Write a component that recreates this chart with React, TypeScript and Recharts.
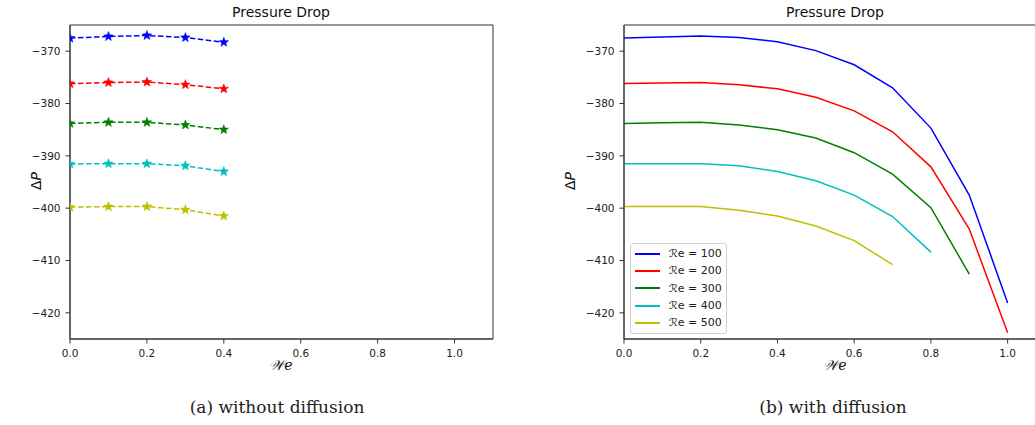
import React from "react";
import { LineChart, Line, XAxis, YAxis, ReferenceArea } from "recharts";

const seriesNames = ["ℛe = 100", "ℛe = 200", "ℛe = 300", "ℛe = 400", "ℛe = 500"];
const seriesColors = ["#0000ff", "#ff0000", "#008000", "#00bfbf", "#bfbf00"];

const xNoDiff = [0, 0.1, 0.2, 0.3, 0.4];
const noDiff100 = [-367.5, -367.2, -367.0, -367.4, -368.3];
const noDiff200 = [-376.2, -376.0, -375.9, -376.4, -377.2];
const noDiff300 = [-383.8, -383.6, -383.6, -384.1, -385.0];
const noDiff400 = [-391.55, -391.5, -391.5, -391.9, -393.0];
const noDiff500 = [-399.8, -399.7, -399.7, -400.3, -401.5];

const xDiff = [0, 0.1, 0.2, 0.3, 0.4, 0.5, 0.6, 0.7, 0.8, 0.9, 1.0];
const diff100 = [-367.5, -367.3, -367.1, -367.4, -368.2, -369.9, -372.6, -377.0, -384.7, -397.5, -418.1];
const diff200 = [-376.2, -376.1, -376.0, -376.4, -377.2, -378.8, -381.4, -385.4, -392.1, -404.0, -423.8];
const diff300 = [-383.8, -383.7, -383.6, -384.1, -385.0, -386.6, -389.4, -393.5, -399.9, -412.6];
const diff400 = [-391.5, -391.5, -391.5, -391.9, -393.0, -394.75, -397.5, -401.6, -408.4];
const diff500 = [-399.7, -399.7, -399.7, -400.4, -401.5, -403.4, -406.2, -410.8];

const xTicks = [0, 0.2, 0.4, 0.6, 0.8, 1.0];
const yTicks = [-420, -410, -400, -390, -380, -370];

const toPoints = (xs: number[], ys: number[]) => ys.map((y, i) => ({ x: xs[i], y }));

const noDiffSeries = [noDiff100, noDiff200, noDiff300, noDiff400, noDiff500].map((ys) => toPoints(xNoDiff, ys));
const diffSeries = [diff100, diff200, diff300, diff400, diff500].map((ys) => toPoints(xDiff, ys));

const FONT = "'DejaVu Sans', sans-serif";
const tickStyle = { fontSize: 10.5, fill: "#222", fontFamily: FONT };
const fmtY = (v: number) => String(v).replace("-", "\u2212");
const fmtX = (v: number) => v.toFixed(1);

const Star = (props: any) => {
  const { cx, cy, stroke } = props;
  if (cx == null || cy == null) return null;
  const R = 5;
  const r = 2.1;
  let d = "";
  for (let i = 0; i < 10; i++) {
    const rad = i % 2 === 0 ? R : r;
    const a = -Math.PI / 2 + (i * Math.PI) / 5;
    d += (i === 0 ? "M" : "L") + (cx + rad * Math.cos(a)).toFixed(2) + "," + (cy + rad * Math.sin(a)).toFixed(2);
  }
  d += "Z";
  return <path d={d} fill={stroke} stroke={stroke} strokeWidth={0.5} />;
};

const abs = (left: number, top: number, extra: any = {}) => ({ position: "absolute" as const, left, top, ...extra });

const LegendBox = () => (
  <div
    style={abs(630, 243, {
      width: 97,
      height: 91,
      boxSizing: "border-box",
      border: "1px solid #d0d0d0",
      borderRadius: 3,
      background: "rgba(255,255,255,0.85)",
      padding: "0 0 0 4px",
      fontFamily: FONT,
      fontSize: 11,
      color: "#222",
    })}
  >
    {seriesNames.map((n, i) => (
      <div key={n} style={{ display: "flex", alignItems: "center", height: 17.3, marginTop: i === 0 ? 1 : 0 }}>
        <div style={{ width: 25, height: 2, background: seriesColors[i], marginRight: 9 }} />
        <span style={{ whiteSpace: "nowrap" }}>{n}</span>
      </div>
    ))}
  </div>
);

const Panel = ({ series, dashed }: { series: any[]; dashed: boolean }) => (
  <LineChart width={dashed ? 520 : 492} height={425} margin={{ top: 25, right: dashed ? 27 : 0, left: 0, bottom: 56 }}>
    <XAxis
      type="number"
      dataKey="x"
      domain={[0, 1.1]}
      ticks={xTicks}
      tickFormatter={fmtX}
      allowDataOverflow
      height={30}
      tick={tickStyle}
      tickSize={4.5}
      tickMargin={6}
      stroke="#333"
    />
    <YAxis
      type="number"
      dataKey="y"
      domain={[-425, -365]}
      ticks={yTicks}
      tickFormatter={fmtY}
      allowDataOverflow
      width={70}
      tick={tickStyle}
      tickSize={4.5}
      tickMargin={5}
      stroke="#333"
    />
    <ReferenceArea x1={0} x2={1.1} y1={-425} y2={-365} fill="none" stroke="#333" strokeWidth={1} />
    {series.map((d, i) => (
      <Line
        key={i}
        data={d}
        dataKey="y"
        name={seriesNames[i]}
        stroke={seriesColors[i]}
        strokeWidth={1.5}
        strokeDasharray={dashed ? "5.5 2.5" : undefined}
        dot={dashed ? <Star /> : false}
        activeDot={false}
        isAnimationActive={false}
      />
    ))}
  </LineChart>
);

const Title = ({ cx }: { cx: number }) => (
  <div style={abs(cx - 100, 4, { width: 200, textAlign: "center", fontFamily: FONT, fontSize: 14, color: "#111" })}>
    Pressure Drop
  </div>
);

const XLabel = ({ cx }: { cx: number }) => (
  <div style={abs(cx - 50, 357, { width: 100, textAlign: "center", fontFamily: "'DejaVu Serif', serif", fontStyle: "italic", fontSize: 14, color: "#111" })}>
    𝒲e
  </div>
);

const YLabel = ({ x }: { x: number }) => (
  <div
    style={abs(x - 30, 173, {
      width: 60,
      textAlign: "center",
      transform: "rotate(-90deg)",
      fontFamily: FONT,
      fontSize: 14,
      color: "#111",
    })}
  >
    Δ<i>P</i>
  </div>
);

const Caption = ({ cx, text }: { cx: number; text: string }) => (
  <div style={abs(cx - 150, 397, { width: 300, textAlign: "center", fontFamily: "'DejaVu Serif', serif", fontSize: 17, color: "#222" })}>
    {text}
  </div>
);

export default function App() {
  return (
    <div style={{ position: "absolute", left: 0, top: 0, width: 1035, height: 425, overflow: "hidden", background: "#fff" }}>
      <div style={abs(0, 0)}>
        <Panel series={noDiffSeries} dashed={true} />
      </div>
      <div style={abs(554, 0)}>
        <Panel series={diffSeries} dashed={false} />
      </div>
      <LegendBox />
      <Title cx={281} />
      <Title cx={835} />
      <YLabel x={36} />
      <YLabel x={570} />
      <XLabel cx={281} />
      <XLabel cx={835} />
      <Caption cx={277} text="(a) without diffusion" />
      <Caption cx={833} text="(b) with diffusion" />
    </div>
  );
}
